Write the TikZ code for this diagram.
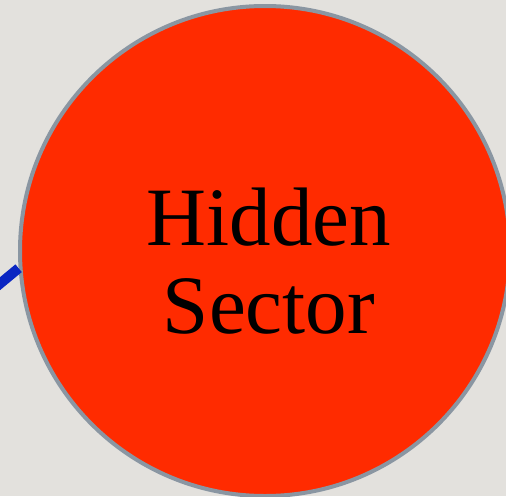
\documentclass[tikz,border=0pt]{standalone}
\usepackage{fontspec}
\setmainfont{Liberation Serif}
\definecolor{bgc}{HTML}{E3E1DD}
\definecolor{redc}{HTML}{FF2B00}
\definecolor{rimc}{HTML}{8A96A2}
\definecolor{bluec}{HTML}{0A26C2}
\tikzset{
  sector/.style={circle, fill=redc, draw=rimc, line width=4pt, minimum size=490pt, inner sep=0pt},
  label/.style={font=\fontsize{83}{88}\selectfont, text=black, anchor=base, inner sep=0pt},
  link/.style={draw=bluec, line width=10pt}
}
\begin{document}
\begin{tikzpicture}[x=1pt,y=-1pt]
\fill[bgc] (0,0) rectangle (506,496);
\useasboundingbox (0,0) rectangle (506,496);
\coordinate (start) at (-4,287);
\node[sector] (circ) at (265,251) {};
\draw[link] (start) -- (circ.184.5);
\node[label] (l1) at (269,245) {Hidden};
\node[label] (l2) at (269,333) {Sector};
\end{tikzpicture}
\end{document}
